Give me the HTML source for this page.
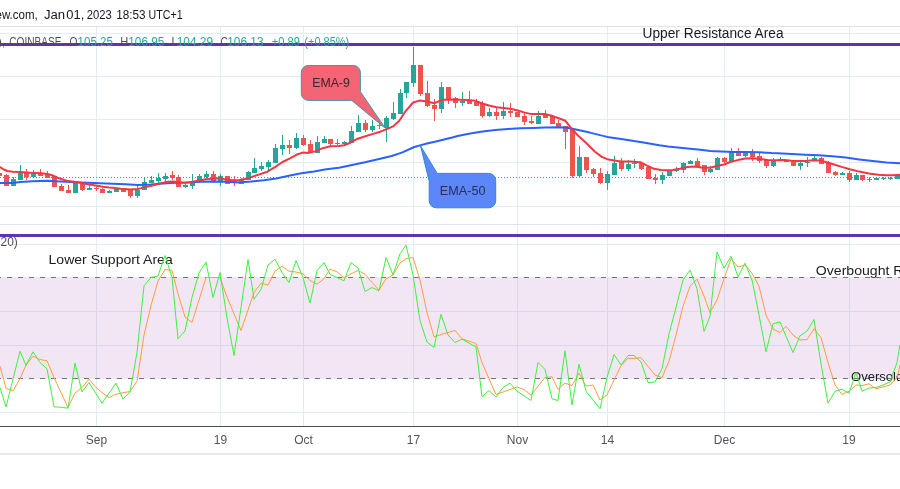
<!DOCTYPE html>
<html lang="en"><head><meta charset="utf-8"><title>Chart</title>
<style>html,body{margin:0;padding:0;background:#fff;}body{width:900px;height:489px;position:relative;overflow:hidden;font-family:"Liberation Sans",sans-serif;}</style></head>
<body>
<svg width="900" height="489" viewBox="0 0 900 489" style="position:absolute;left:0;top:0;display:block">
<rect width="900" height="489" fill="#fff"/>
<rect x="0" y="278" width="900" height="100" fill="#f2e6f5"/>
<g fill="#e1ecf3" shape-rendering="crispEdges">
<rect x="96" y="27" width="1" height="399"/>
<rect x="220" y="27" width="1" height="399"/>
<rect x="303" y="27" width="1" height="399"/>
<rect x="413" y="27" width="1" height="399"/>
<rect x="517" y="27" width="1" height="399"/>
<rect x="607" y="27" width="1" height="399"/>
<rect x="724" y="27" width="1" height="399"/>
<rect x="849" y="27" width="1" height="399"/>
<rect x="0" y="33" width="900" height="1"/>
<rect x="0" y="76" width="900" height="1"/>
<rect x="0" y="119" width="900" height="1"/>
<rect x="0" y="162" width="900" height="1"/>
<rect x="0" y="206" width="900" height="1"/>
<rect x="0" y="244" width="900" height="1"/>
<rect x="0" y="277" width="900" height="1"/>
<rect x="0" y="311" width="900" height="1"/>
<rect x="0" y="345" width="900" height="1"/>
<rect x="0" y="378" width="900" height="1"/>
<rect x="0" y="412" width="900" height="1"/>
</g>
<g fill="#d7d8e9" shape-rendering="crispEdges">
<rect x="0" y="311" width="900" height="1"/>
<rect x="0" y="345" width="900" height="1"/>
<rect x="96" y="278" width="1" height="100"/>
<rect x="220" y="278" width="1" height="100"/>
<rect x="303" y="278" width="1" height="100"/>
<rect x="413" y="278" width="1" height="100"/>
<rect x="517" y="278" width="1" height="100"/>
<rect x="607" y="278" width="1" height="100"/>
<rect x="724" y="278" width="1" height="100"/>
<rect x="849" y="278" width="1" height="100"/>
</g>
<rect x="0" y="26" width="900" height="1" fill="#e0e3eb" shape-rendering="crispEdges"/>
<rect x="0" y="224" width="900" height="1" fill="#e0e3eb" shape-rendering="crispEdges"/>
<g stroke="#747474" stroke-width="1" stroke-dasharray="5 6" stroke-dashoffset="4" shape-rendering="crispEdges"><line x1="0" y1="277.5" x2="900" y2="277.5"/><line x1="0" y1="378.5" x2="900" y2="378.5"/></g>
<g shape-rendering="crispEdges">
<rect x="-3" y="173" width="5" height="3" fill="#ef5350"/>
<rect x="6" y="174" width="1" height="12" fill="#ef5350"/>
<rect x="4" y="175" width="5" height="11" fill="#ef5350"/>
<rect x="13" y="177" width="1" height="9" fill="#26a69a"/>
<rect x="11" y="179" width="5" height="7" fill="#26a69a"/>
<rect x="20" y="165" width="1" height="15" fill="#26a69a"/>
<rect x="18" y="173" width="5" height="7" fill="#26a69a"/>
<rect x="26" y="169" width="1" height="11" fill="#ef5350"/>
<rect x="24" y="173" width="5" height="4" fill="#ef5350"/>
<rect x="33" y="170" width="1" height="8" fill="#26a69a"/>
<rect x="31" y="174" width="5" height="3" fill="#26a69a"/>
<rect x="40" y="169" width="1" height="7" fill="#ef5350"/>
<rect x="38" y="173" width="5" height="3" fill="#ef5350"/>
<rect x="47" y="171" width="1" height="7" fill="#ef5350"/>
<rect x="45" y="174" width="5" height="4" fill="#ef5350"/>
<rect x="52" y="176" width="5" height="11" fill="#ef5350"/>
<rect x="61" y="184" width="1" height="7" fill="#ef5350"/>
<rect x="59" y="186" width="5" height="5" fill="#ef5350"/>
<rect x="68" y="185" width="1" height="8" fill="#ef5350"/>
<rect x="66" y="190" width="5" height="3" fill="#ef5350"/>
<rect x="73" y="183" width="5" height="10" fill="#26a69a"/>
<rect x="82" y="183" width="1" height="8" fill="#ef5350"/>
<rect x="80" y="183" width="5" height="7" fill="#ef5350"/>
<rect x="89" y="185" width="1" height="5" fill="#26a69a"/>
<rect x="87" y="188" width="5" height="2" fill="#26a69a"/>
<rect x="96" y="187" width="1" height="4" fill="#ef5350"/>
<rect x="94" y="188" width="5" height="1" fill="#ef5350"/>
<rect x="102" y="188" width="1" height="5" fill="#ef5350"/>
<rect x="100" y="189" width="5" height="4" fill="#ef5350"/>
<rect x="109" y="190" width="1" height="3" fill="#26a69a"/>
<rect x="107" y="191" width="5" height="2" fill="#26a69a"/>
<rect x="114" y="189" width="5" height="3" fill="#26a69a"/>
<rect x="121" y="189" width="5" height="3" fill="#ef5350"/>
<rect x="130" y="190" width="1" height="8" fill="#ef5350"/>
<rect x="128" y="190" width="5" height="6" fill="#ef5350"/>
<rect x="137" y="185" width="1" height="13" fill="#26a69a"/>
<rect x="135" y="190" width="5" height="6" fill="#26a69a"/>
<rect x="144" y="177" width="1" height="13" fill="#26a69a"/>
<rect x="142" y="182" width="5" height="8" fill="#26a69a"/>
<rect x="151" y="176" width="1" height="7" fill="#26a69a"/>
<rect x="149" y="180" width="5" height="3" fill="#26a69a"/>
<rect x="158" y="173" width="1" height="10" fill="#26a69a"/>
<rect x="156" y="178" width="5" height="3" fill="#26a69a"/>
<rect x="165" y="173" width="1" height="9" fill="#26a69a"/>
<rect x="163" y="176" width="5" height="3" fill="#26a69a"/>
<rect x="172" y="171" width="1" height="9" fill="#ef5350"/>
<rect x="170" y="175" width="5" height="3" fill="#ef5350"/>
<rect x="178" y="175" width="1" height="12" fill="#ef5350"/>
<rect x="176" y="177" width="5" height="10" fill="#ef5350"/>
<rect x="185" y="184" width="1" height="4" fill="#26a69a"/>
<rect x="183" y="185" width="5" height="2" fill="#26a69a"/>
<rect x="192" y="174" width="1" height="15" fill="#26a69a"/>
<rect x="190" y="181" width="5" height="5" fill="#26a69a"/>
<rect x="199" y="174" width="1" height="9" fill="#26a69a"/>
<rect x="197" y="176" width="5" height="5" fill="#26a69a"/>
<rect x="206" y="171" width="1" height="7" fill="#26a69a"/>
<rect x="204" y="174" width="5" height="3" fill="#26a69a"/>
<rect x="213" y="171" width="1" height="12" fill="#ef5350"/>
<rect x="211" y="174" width="5" height="7" fill="#ef5350"/>
<rect x="220" y="174" width="1" height="12" fill="#26a69a"/>
<rect x="218" y="176" width="5" height="5" fill="#26a69a"/>
<rect x="225" y="176" width="5" height="8" fill="#ef5350"/>
<rect x="234" y="176" width="1" height="10" fill="#ef5350"/>
<rect x="232" y="180" width="5" height="3" fill="#ef5350"/>
<rect x="241" y="178" width="1" height="6" fill="#26a69a"/>
<rect x="239" y="180" width="5" height="4" fill="#26a69a"/>
<rect x="248" y="171" width="1" height="9" fill="#26a69a"/>
<rect x="246" y="172" width="5" height="8" fill="#26a69a"/>
<rect x="254" y="158" width="1" height="15" fill="#26a69a"/>
<rect x="252" y="168" width="5" height="5" fill="#26a69a"/>
<rect x="261" y="162" width="1" height="9" fill="#26a69a"/>
<rect x="259" y="166" width="5" height="3" fill="#26a69a"/>
<rect x="268" y="160" width="1" height="10" fill="#26a69a"/>
<rect x="266" y="162" width="5" height="5" fill="#26a69a"/>
<rect x="275" y="144" width="1" height="19" fill="#26a69a"/>
<rect x="273" y="148" width="5" height="15" fill="#26a69a"/>
<rect x="282" y="135" width="1" height="20" fill="#26a69a"/>
<rect x="280" y="145" width="5" height="4" fill="#26a69a"/>
<rect x="289" y="140" width="1" height="14" fill="#ef5350"/>
<rect x="287" y="145" width="5" height="3" fill="#ef5350"/>
<rect x="296" y="133" width="1" height="16" fill="#26a69a"/>
<rect x="294" y="138" width="5" height="10" fill="#26a69a"/>
<rect x="303" y="135" width="1" height="11" fill="#ef5350"/>
<rect x="301" y="138" width="5" height="7" fill="#ef5350"/>
<rect x="310" y="140" width="1" height="12" fill="#ef5350"/>
<rect x="308" y="144" width="5" height="8" fill="#ef5350"/>
<rect x="317" y="136" width="1" height="17" fill="#26a69a"/>
<rect x="315" y="142" width="5" height="11" fill="#26a69a"/>
<rect x="324" y="136" width="1" height="7" fill="#26a69a"/>
<rect x="322" y="139" width="5" height="4" fill="#26a69a"/>
<rect x="330" y="139" width="1" height="7" fill="#ef5350"/>
<rect x="328" y="139" width="5" height="5" fill="#ef5350"/>
<rect x="337" y="139" width="1" height="6" fill="#26a69a"/>
<rect x="335" y="143" width="5" height="1" fill="#26a69a"/>
<rect x="344" y="141" width="1" height="3" fill="#26a69a"/>
<rect x="342" y="142" width="5" height="2" fill="#26a69a"/>
<rect x="351" y="126" width="1" height="17" fill="#26a69a"/>
<rect x="349" y="131" width="5" height="12" fill="#26a69a"/>
<rect x="358" y="115" width="1" height="17" fill="#26a69a"/>
<rect x="356" y="123" width="5" height="9" fill="#26a69a"/>
<rect x="365" y="120" width="1" height="12" fill="#ef5350"/>
<rect x="363" y="123" width="5" height="7" fill="#ef5350"/>
<rect x="372" y="120" width="1" height="12" fill="#26a69a"/>
<rect x="370" y="126" width="5" height="4" fill="#26a69a"/>
<rect x="379" y="123" width="1" height="6" fill="#ef5350"/>
<rect x="377" y="125" width="5" height="1" fill="#ef5350"/>
<rect x="386" y="116" width="1" height="26" fill="#26a69a"/>
<rect x="384" y="118" width="5" height="10" fill="#26a69a"/>
<rect x="393" y="102" width="1" height="18" fill="#26a69a"/>
<rect x="391" y="113" width="5" height="6" fill="#26a69a"/>
<rect x="400" y="89" width="1" height="25" fill="#26a69a"/>
<rect x="398" y="93" width="5" height="21" fill="#26a69a"/>
<rect x="406" y="82" width="1" height="16" fill="#26a69a"/>
<rect x="404" y="82" width="5" height="11" fill="#26a69a"/>
<rect x="413" y="47" width="1" height="40" fill="#26a69a"/>
<rect x="411" y="65" width="5" height="18" fill="#26a69a"/>
<rect x="420" y="65" width="1" height="31" fill="#ef5350"/>
<rect x="418" y="65" width="5" height="29" fill="#ef5350"/>
<rect x="427" y="81" width="1" height="26" fill="#ef5350"/>
<rect x="425" y="93" width="5" height="13" fill="#ef5350"/>
<rect x="434" y="99" width="1" height="22" fill="#ef5350"/>
<rect x="432" y="105" width="5" height="4" fill="#ef5350"/>
<rect x="441" y="82" width="1" height="31" fill="#26a69a"/>
<rect x="439" y="87" width="5" height="22" fill="#26a69a"/>
<rect x="448" y="87" width="1" height="17" fill="#ef5350"/>
<rect x="446" y="87" width="5" height="13" fill="#ef5350"/>
<rect x="455" y="97" width="1" height="11" fill="#ef5350"/>
<rect x="453" y="98" width="5" height="5" fill="#ef5350"/>
<rect x="462" y="92" width="1" height="14" fill="#26a69a"/>
<rect x="460" y="101" width="5" height="2" fill="#26a69a"/>
<rect x="469" y="91" width="1" height="13" fill="#ef5350"/>
<rect x="467" y="100" width="5" height="4" fill="#ef5350"/>
<rect x="476" y="99" width="1" height="7" fill="#ef5350"/>
<rect x="474" y="102" width="5" height="4" fill="#ef5350"/>
<rect x="482" y="101" width="1" height="17" fill="#ef5350"/>
<rect x="480" y="104" width="5" height="12" fill="#ef5350"/>
<rect x="489" y="108" width="1" height="9" fill="#26a69a"/>
<rect x="487" y="112" width="5" height="4" fill="#26a69a"/>
<rect x="496" y="108" width="1" height="12" fill="#ef5350"/>
<rect x="494" y="112" width="5" height="4" fill="#ef5350"/>
<rect x="503" y="102" width="1" height="17" fill="#26a69a"/>
<rect x="501" y="111" width="5" height="5" fill="#26a69a"/>
<rect x="510" y="103" width="1" height="14" fill="#ef5350"/>
<rect x="508" y="111" width="5" height="2" fill="#ef5350"/>
<rect x="515" y="112" width="5" height="5" fill="#ef5350"/>
<rect x="524" y="113" width="1" height="12" fill="#ef5350"/>
<rect x="522" y="116" width="5" height="6" fill="#ef5350"/>
<rect x="531" y="116" width="1" height="8" fill="#ef5350"/>
<rect x="529" y="121" width="5" height="2" fill="#ef5350"/>
<rect x="538" y="111" width="1" height="13" fill="#26a69a"/>
<rect x="536" y="116" width="5" height="8" fill="#26a69a"/>
<rect x="545" y="110" width="1" height="8" fill="#ef5350"/>
<rect x="543" y="114" width="5" height="4" fill="#ef5350"/>
<rect x="552" y="115" width="1" height="9" fill="#ef5350"/>
<rect x="550" y="116" width="5" height="8" fill="#ef5350"/>
<rect x="558" y="120" width="1" height="7" fill="#ef5350"/>
<rect x="556" y="123" width="5" height="4" fill="#ef5350"/>
<rect x="565" y="126" width="1" height="23" fill="#ef5350"/>
<rect x="563" y="126" width="5" height="6" fill="#ef5350"/>
<rect x="572" y="129" width="1" height="49" fill="#ef5350"/>
<rect x="570" y="129" width="5" height="47" fill="#ef5350"/>
<rect x="579" y="146" width="1" height="32" fill="#26a69a"/>
<rect x="577" y="157" width="5" height="19" fill="#26a69a"/>
<rect x="586" y="157" width="1" height="16" fill="#ef5350"/>
<rect x="584" y="157" width="5" height="13" fill="#ef5350"/>
<rect x="593" y="168" width="1" height="9" fill="#ef5350"/>
<rect x="591" y="169" width="5" height="5" fill="#ef5350"/>
<rect x="600" y="168" width="1" height="16" fill="#ef5350"/>
<rect x="598" y="173" width="5" height="10" fill="#ef5350"/>
<rect x="607" y="171" width="1" height="19" fill="#26a69a"/>
<rect x="605" y="174" width="5" height="9" fill="#26a69a"/>
<rect x="614" y="156" width="1" height="19" fill="#26a69a"/>
<rect x="612" y="163" width="5" height="12" fill="#26a69a"/>
<rect x="621" y="158" width="1" height="13" fill="#ef5350"/>
<rect x="619" y="162" width="5" height="7" fill="#ef5350"/>
<rect x="628" y="160" width="1" height="11" fill="#26a69a"/>
<rect x="626" y="164" width="5" height="5" fill="#26a69a"/>
<rect x="634" y="159" width="1" height="9" fill="#26a69a"/>
<rect x="632" y="163" width="5" height="1" fill="#26a69a"/>
<rect x="641" y="163" width="1" height="7" fill="#ef5350"/>
<rect x="639" y="163" width="5" height="6" fill="#ef5350"/>
<rect x="646" y="167" width="5" height="12" fill="#ef5350"/>
<rect x="655" y="174" width="1" height="10" fill="#ef5350"/>
<rect x="653" y="178" width="5" height="2" fill="#ef5350"/>
<rect x="662" y="172" width="1" height="12" fill="#26a69a"/>
<rect x="660" y="175" width="5" height="5" fill="#26a69a"/>
<rect x="667" y="170" width="5" height="6" fill="#26a69a"/>
<rect x="676" y="167" width="1" height="5" fill="#26a69a"/>
<rect x="674" y="169" width="5" height="2" fill="#26a69a"/>
<rect x="683" y="162" width="1" height="11" fill="#26a69a"/>
<rect x="681" y="163" width="5" height="7" fill="#26a69a"/>
<rect x="690" y="160" width="1" height="4" fill="#26a69a"/>
<rect x="688" y="161" width="5" height="3" fill="#26a69a"/>
<rect x="697" y="158" width="1" height="9" fill="#ef5350"/>
<rect x="695" y="161" width="5" height="6" fill="#ef5350"/>
<rect x="704" y="165" width="1" height="10" fill="#ef5350"/>
<rect x="702" y="165" width="5" height="7" fill="#ef5350"/>
<rect x="710" y="166" width="1" height="7" fill="#26a69a"/>
<rect x="708" y="169" width="5" height="3" fill="#26a69a"/>
<rect x="717" y="157" width="1" height="13" fill="#26a69a"/>
<rect x="715" y="158" width="5" height="12" fill="#26a69a"/>
<rect x="724" y="157" width="1" height="6" fill="#ef5350"/>
<rect x="722" y="158" width="5" height="4" fill="#ef5350"/>
<rect x="731" y="148" width="1" height="13" fill="#26a69a"/>
<rect x="729" y="151" width="5" height="10" fill="#26a69a"/>
<rect x="738" y="148" width="1" height="8" fill="#ef5350"/>
<rect x="736" y="151" width="5" height="5" fill="#ef5350"/>
<rect x="745" y="151" width="1" height="6" fill="#26a69a"/>
<rect x="743" y="152" width="5" height="4" fill="#26a69a"/>
<rect x="752" y="149" width="1" height="12" fill="#ef5350"/>
<rect x="750" y="153" width="5" height="4" fill="#ef5350"/>
<rect x="759" y="153" width="1" height="10" fill="#ef5350"/>
<rect x="757" y="156" width="5" height="5" fill="#ef5350"/>
<rect x="766" y="160" width="1" height="8" fill="#ef5350"/>
<rect x="764" y="160" width="5" height="6" fill="#ef5350"/>
<rect x="773" y="158" width="1" height="9" fill="#26a69a"/>
<rect x="771" y="161" width="5" height="5" fill="#26a69a"/>
<rect x="780" y="157" width="1" height="4" fill="#26a69a"/>
<rect x="778" y="159" width="5" height="2" fill="#26a69a"/>
<rect x="784" y="160" width="5" height="2" fill="#ef5350"/>
<rect x="791" y="161" width="5" height="5" fill="#ef5350"/>
<rect x="800" y="160" width="1" height="10" fill="#26a69a"/>
<rect x="798" y="163" width="5" height="3" fill="#26a69a"/>
<rect x="807" y="157" width="1" height="10" fill="#26a69a"/>
<rect x="805" y="162" width="5" height="1" fill="#26a69a"/>
<rect x="814" y="154" width="1" height="6" fill="#26a69a"/>
<rect x="812" y="158" width="5" height="2" fill="#26a69a"/>
<rect x="821" y="157" width="1" height="7" fill="#ef5350"/>
<rect x="819" y="158" width="5" height="6" fill="#ef5350"/>
<rect x="828" y="161" width="1" height="12" fill="#ef5350"/>
<rect x="826" y="163" width="5" height="10" fill="#ef5350"/>
<rect x="835" y="171" width="1" height="5" fill="#ef5350"/>
<rect x="833" y="172" width="5" height="3" fill="#ef5350"/>
<rect x="842" y="172" width="1" height="3" fill="#26a69a"/>
<rect x="840" y="173" width="5" height="2" fill="#26a69a"/>
<rect x="849" y="171" width="1" height="11" fill="#ef5350"/>
<rect x="847" y="173" width="5" height="7" fill="#ef5350"/>
<rect x="856" y="173" width="1" height="7" fill="#26a69a"/>
<rect x="854" y="175" width="5" height="5" fill="#26a69a"/>
<rect x="862" y="175" width="1" height="6" fill="#ef5350"/>
<rect x="860" y="175" width="5" height="5" fill="#ef5350"/>
<rect x="869" y="177" width="1" height="5" fill="#26a69a"/>
<rect x="867" y="179" width="5" height="1" fill="#26a69a"/>
<rect x="876" y="177" width="1" height="3" fill="#26a69a"/>
<rect x="874" y="178" width="5" height="2" fill="#26a69a"/>
<rect x="883" y="177" width="1" height="3" fill="#26a69a"/>
<rect x="881" y="178" width="5" height="1" fill="#26a69a"/>
<rect x="890" y="177" width="1" height="3" fill="#26a69a"/>
<rect x="888" y="178" width="5" height="1" fill="#26a69a"/>
<rect x="895" y="175" width="5" height="4" fill="#26a69a"/>
</g>
<line x1="0" y1="177.5" x2="900" y2="177.5" stroke="#26a69a" stroke-width="1" stroke-dasharray="1 2" shape-rendering="crispEdges"/>
<polyline points="0.0,183.1 12.6,183.1 20.0,182.1 32.6,181.2 47.7,180.8 55.2,181.2 65.3,181.7 75.3,182.2 87.9,182.7 100.4,183.3 113.0,183.7 125.6,184.2 138.1,184.9 150.7,184.5 163.2,183.5 175.8,182.7 188.3,182.4 200.9,181.8 213.4,181.4 226.0,181.8 238.6,182.5 251.1,181.5 263.7,180.2 276.2,178.4 288.8,175.8 301.3,173.3 313.9,171.5 326.4,169.3 339.0,167.7 352.0,165.0 365.0,162.3 378.0,159.3 391.7,156.0 401.8,152.6 414.3,147.0 420.9,145.1 426.9,143.5 434.8,141.8 445.0,139.3 452.2,137.5 457.6,136.0 470.1,133.6 482.7,131.5 495.2,130.0 507.8,129.0 520.3,128.3 532.9,128.0 545.4,127.5 558.0,127.3 565.4,127.4 572.4,128.8 589.8,132.6 607.2,136.9 624.5,139.6 641.9,142.2 659.3,145.3 668.0,146.5 677.6,147.6 690.1,148.8 702.7,150.1 710.2,151.1 721.5,151.6 734.1,152.0 746.6,152.0 759.2,152.3 771.7,153.0 778.0,153.2 791.6,154.0 805.1,154.7 818.7,155.3 832.2,156.3 845.8,157.6 859.3,159.4 872.9,161.0 886.4,162.4 900.0,163.2" fill="none" stroke="#2962ff" stroke-width="2" stroke-linejoin="round" stroke-linecap="round"/>
<polyline points="0.0,167.0 3.8,169.5 7.5,171.0 12.6,171.8 20.0,172.0 26.4,172.4 33.9,172.9 41.4,173.3 47.7,173.9 52.7,175.5 59.0,178.3 66.5,180.8 74.0,181.8 80.4,182.7 87.9,184.3 95.4,185.4 103.0,186.7 109.2,187.5 113.0,187.7 120.5,188.7 130.6,189.6 138.1,188.9 145.6,187.1 153.2,185.2 160.7,183.3 168.2,181.8 173.3,181.4 178.3,182.3 184.6,182.7 190.8,182.0 198.4,180.8 205.9,179.2 213.4,178.6 221.0,178.3 226.0,179.6 232.3,180.2 238.6,180.2 244.8,179.0 251.1,177.1 258.6,174.6 267.4,171.7 275.0,167.1 282.5,162.0 290.0,158.3 296.3,154.8 302.6,152.6 308.9,152.9 315.1,151.4 322.7,148.2 330.2,146.3 339.0,146.1 344.0,145.2 350.3,142.7 357.8,138.7 365.4,136.2 372.9,133.9 380.4,131.7 386.7,129.1 393.0,126.4 399.3,120.7 405.5,111.3 413.1,102.5 419.4,100.6 425.6,101.3 434.4,103.2 442.0,100.0 445.0,99.7 452.5,99.5 460.1,99.8 467.6,100.1 475.1,100.7 481.4,103.2 488.9,105.5 496.5,107.2 504.0,107.9 511.5,109.1 517.8,110.5 524.1,112.4 530.4,113.9 537.9,113.9 545.4,114.1 551.7,115.8 555.0,117.0 560.2,118.7 565.4,120.8 570.6,127.4 577.6,135.2 586.3,143.0 595.0,151.7 601.9,156.9 607.2,159.2 614.1,160.4 621.1,161.6 629.8,161.6 640.2,162.2 647.1,165.6 654.1,168.8 661.0,170.0 665.0,170.2 672.5,169.9 680.1,168.7 687.6,167.0 695.1,166.4 702.7,167.7 710.2,167.7 717.7,165.8 724.0,164.5 730.3,162.0 737.8,160.1 745.4,158.6 752.9,158.2 760.4,159.1 768.0,159.9 778.0,160.3 784.8,160.1 791.6,160.8 798.3,161.0 805.1,161.0 813.2,160.3 821.4,160.8 828.2,162.8 834.9,164.8 841.7,166.9 849.8,169.2 859.3,171.6 868.8,173.4 878.3,174.7 886.4,175.3 893.2,175.3 900.0,174.7" fill="none" stroke="#f23645" stroke-width="2" stroke-linejoin="round" stroke-linecap="round"/>
<g font-family="Liberation Sans, sans-serif">
<text x="-4.5" y="18.9" font-size="12.5" fill="#131722" text-anchor="start" textLength="42.2" lengthAdjust="spacingAndGlyphs" >ew.com,</text>
<text x="43.9" y="18.9" font-size="12.5" fill="#131722" text-anchor="start" textLength="21.2" lengthAdjust="spacingAndGlyphs" >Jan</text>
<text x="66.3" y="18.9" font-size="12.5" fill="#131722" text-anchor="start" textLength="18" lengthAdjust="spacingAndGlyphs" >01,</text>
<text x="86.7" y="18.9" font-size="12.5" fill="#131722" text-anchor="start" textLength="25" lengthAdjust="spacingAndGlyphs" >2023</text>
<text x="116.2" y="18.9" font-size="12.5" fill="#131722" text-anchor="start" textLength="29.4" lengthAdjust="spacingAndGlyphs" >18:53</text>
<text x="148.6" y="18.9" font-size="12.5" fill="#131722" text-anchor="start" textLength="34" lengthAdjust="spacingAndGlyphs" >UTC+1</text>
<text x="642.6" y="37.9" font-size="13.8" fill="#1b1b1f" text-anchor="start" textLength="141" lengthAdjust="spacingAndGlyphs" >Upper Resistance Area</text>
<text x="48.5" y="264.25" font-size="13.5" fill="#1b1b1f" text-anchor="start" textLength="124.2" lengthAdjust="spacingAndGlyphs" >Lower Support Area</text>
<text x="815.8" y="274.5" font-size="13.5" fill="#1b1b1f" text-anchor="start" textLength="122.2" lengthAdjust="spacingAndGlyphs" >Overbought Region</text>
<text x="851" y="380.5" font-size="13.5" fill="#1b1b1f" text-anchor="start" textLength="97.3" lengthAdjust="spacingAndGlyphs" >Oversold Region</text>
<text x="0.5" y="245.5" font-size="12" fill="#4d4d55" text-anchor="start" >20)</text>
<text x="96.5" y="444" font-size="12" fill="#50535e" text-anchor="middle" >Sep</text>
<text x="220.5" y="444" font-size="12" fill="#50535e" text-anchor="middle" >19</text>
<text x="303.5" y="444" font-size="12" fill="#50535e" text-anchor="middle" >Oct</text>
<text x="413.5" y="444" font-size="12" fill="#50535e" text-anchor="middle" >17</text>
<text x="517.5" y="444" font-size="12" fill="#50535e" text-anchor="middle" >Nov</text>
<text x="607.5" y="444" font-size="12" fill="#50535e" text-anchor="middle" >14</text>
<text x="724.5" y="444" font-size="12" fill="#50535e" text-anchor="middle" >Dec</text>
<text x="849" y="444" font-size="12" fill="#50535e" text-anchor="middle" >19</text>
</g>
<polyline points="0.0,366.2 6.0,388.2 13.0,390.8 20.0,378.8 26.0,365.0 33.0,356.2 40.0,359.5 47.0,360.8 54.0,377.5 61.0,392.5 68.0,407.5 75.0,393.0 82.0,387.5 89.0,379.2 96.0,387.5 102.0,392.5 109.0,397.5 116.0,394.2 123.0,392.8 130.0,391.5 137.0,381.2 144.0,335.0 151.0,305.5 158.0,281.0 165.0,269.5 172.0,270.5 178.0,293.8 185.0,317.0 192.0,322.5 199.0,300.0 206.0,277.5 213.0,277.5 220.0,277.5 227.0,297.0 241.0,330.5 254.0,292.5 261.0,283.2 268.0,285.0 275.0,271.2 282.0,266.2 289.0,271.2 296.0,272.0 303.0,273.8 310.0,280.5 317.0,284.2 324.0,278.8 330.0,269.2 337.0,271.8 344.0,278.0 351.0,273.8 358.0,270.5 365.0,274.2 372.0,282.5 379.0,290.0 386.0,278.8 393.0,275.0 400.0,263.0 406.0,258.8 413.0,257.5 420.0,280.0 427.0,312.5 434.0,336.8 441.0,334.5 448.0,332.5 455.0,330.5 462.0,338.8 469.0,341.2 476.0,343.5 482.0,362.5 489.0,378.8 496.0,394.5 503.0,392.0 510.0,389.5 517.0,387.0 524.0,389.5 531.0,395.0 538.0,386.2 545.0,377.5 552.0,376.8 558.0,389.2 565.0,383.2 572.0,385.5 579.0,373.2 586.0,386.2 593.0,385.0 600.0,400.0 607.0,395.0 614.0,380.0 621.0,365.8 628.0,358.2 634.0,358.5 641.0,357.5 648.0,366.2 655.0,375.0 662.0,377.5 669.0,361.2 676.0,335.1 683.0,306.2 690.0,286.2 697.0,279.2 704.0,296.2 710.0,312.5 717.0,300.0 724.0,278.8 731.0,258.8 738.0,267.0 745.0,265.0 752.0,273.2 759.0,286.2 766.0,315.0 773.0,329.2 780.0,332.5 786.0,326.2 793.0,335.0 800.0,340.0 807.0,339.5 814.0,328.8 821.0,337.5 828.0,362.5 835.0,385.0 842.0,394.5 849.0,391.2 856.0,385.0 862.0,385.5 869.0,383.8 876.0,388.8 883.0,386.8 890.0,385.0 897.0,377.5 900.0,365.0" fill="none" stroke="#ff9c40" stroke-width="1" stroke-linejoin="round"/>
<polyline points="0.0,387.5 6.0,407.0 20.0,351.2 26.0,365.5 33.0,351.8 40.0,362.5 47.0,368.8 54.0,406.8 61.0,407.2 68.0,408.2 75.0,363.2 82.0,392.0 89.0,382.5 102.0,403.2 116.0,383.2 123.0,399.2 130.0,392.0 137.0,352.5 144.0,285.8 151.0,277.5 158.0,276.0 165.0,255.5 172.0,277.5 178.0,338.8 185.0,331.0 192.0,297.5 199.0,273.0 206.0,262.0 213.0,297.5 220.0,272.5 227.0,318.0 234.0,355.5 248.0,259.5 254.0,299.2 261.0,289.5 268.0,265.0 275.0,259.2 282.0,272.5 289.0,282.5 296.0,260.5 303.0,277.5 310.0,303.2 317.0,270.5 324.0,262.5 330.0,274.5 337.0,277.5 344.0,280.8 351.0,262.5 358.0,268.0 365.0,291.5 372.0,287.5 379.0,290.8 386.0,257.5 393.0,275.0 400.0,253.8 406.0,245.0 413.0,275.0 420.0,320.5 427.0,342.0 434.0,347.5 441.0,314.2 448.0,335.0 455.0,342.5 462.0,339.2 476.0,347.0 482.0,396.8 489.0,390.5 496.0,397.0 503.0,387.5 510.0,383.2 517.0,391.2 531.0,400.5 538.0,362.5 545.0,369.5 552.0,398.8 558.0,400.5 565.0,350.8 572.0,405.0 579.0,364.2 586.0,391.2 600.0,408.8 607.0,377.5 614.0,354.5 621.0,365.0 628.0,355.5 634.0,355.5 641.0,361.8 648.0,382.5 655.0,382.0 662.0,368.8 669.0,333.8 676.0,307.6 683.0,280.0 690.0,270.0 697.0,288.8 704.0,331.5 710.0,316.2 717.0,252.0 724.0,268.2 731.0,256.2 738.0,276.8 745.0,263.2 752.0,280.0 759.0,315.0 766.0,351.8 773.0,323.8 780.0,321.8 786.0,336.2 793.0,352.5 800.0,335.8 807.0,331.2 814.0,319.5 821.0,363.8 828.0,403.2 835.0,391.2 842.0,389.2 849.0,393.2 856.0,372.5 862.0,391.2 869.0,388.0 876.0,387.5 883.0,385.0 890.0,382.0 897.0,362.5 900.0,345.0" fill="none" stroke="#40f040" stroke-width="1" stroke-linejoin="round"/>
<rect x="0" y="43" width="900" height="3" fill="#5e35b1" shape-rendering="crispEdges"/>
<rect x="0" y="234" width="900" height="3" fill="#5e35b1" shape-rendering="crispEdges"/>
<g font-family="Liberation Sans, sans-serif">
<text x="-2.3" y="45.9" font-size="12.5" fill="#4d4d55" text-anchor="start" >),</text>
<text x="9.3" y="45.9" font-size="12.5" fill="#4d4d55" text-anchor="start" textLength="52.3" lengthAdjust="spacingAndGlyphs" >COINBASE</text>
<text x="69.4" y="45.9" font-size="12.5" fill="#4d4d55" text-anchor="start" textLength="7.9" lengthAdjust="spacingAndGlyphs" >O</text>
<text x="77.6" y="45.9" font-size="12.5" fill="#26a69a" text-anchor="start" textLength="35.3" lengthAdjust="spacingAndGlyphs" >105.25</text>
<text x="120.3" y="45.9" font-size="12.5" fill="#4d4d55" text-anchor="start" textLength="8" lengthAdjust="spacingAndGlyphs" >H</text>
<text x="128.3" y="45.9" font-size="12.5" fill="#26a69a" text-anchor="start" textLength="36" lengthAdjust="spacingAndGlyphs" >106.95</text>
<text x="171.5" y="45.9" font-size="12.5" fill="#4d4d55" text-anchor="start" textLength="6" lengthAdjust="spacingAndGlyphs" >L</text>
<text x="176.7" y="45.9" font-size="12.5" fill="#26a69a" text-anchor="start" textLength="36.4" lengthAdjust="spacingAndGlyphs" >104.29</text>
<text x="220.5" y="45.9" font-size="12.5" fill="#4d4d55" text-anchor="start" textLength="7.3" lengthAdjust="spacingAndGlyphs" >C</text>
<text x="227.2" y="45.9" font-size="12.5" fill="#26a69a" text-anchor="start" textLength="36.3" lengthAdjust="spacingAndGlyphs" >106.13</text>
<text x="271.8" y="45.9" font-size="12.5" fill="#26a69a" text-anchor="start" textLength="28.2" lengthAdjust="spacingAndGlyphs" >+0.89</text>
<text x="304.3" y="45.9" font-size="12.5" fill="#26a69a" text-anchor="start" textLength="45" lengthAdjust="spacingAndGlyphs" >(+0.85%)</text>
</g>
<path d="M308.3,65.5 H353.4 a7,7 0 0 1 7,7 V91.7 L385.3,128.2 L351.7,100.4 H308.3 a7,7 0 0 1 -7,-7 V72.5 a7,7 0 0 1 7,-7 Z" fill="#f36574" stroke="#4a93a8" stroke-width="1"/>
<path d="M437.2,173.4 H488.7 a7,7 0 0 1 7,7 V200.8 a7,7 0 0 1 -7,7 H436.2 a7,7 0 0 1 -7,-7 V181.1 L420.5,145.8 Z" fill="#5c87fb" stroke="#3286d2" stroke-width="1"/>
<g font-family="Liberation Sans, sans-serif">
<text x="331" y="86.9" font-size="13.4" fill="#3b2530" text-anchor="middle" textLength="37.6" lengthAdjust="spacingAndGlyphs" >EMA-9</text>
<text x="462.6" y="194.6" font-size="13.4" fill="#2a2f55" text-anchor="middle" textLength="45.8" lengthAdjust="spacingAndGlyphs" >EMA-50</text>
</g>
<line x1="429" y1="177.5" x2="496" y2="177.5" stroke="#26a69a" stroke-opacity="0.4" stroke-width="1" stroke-dasharray="1 2" stroke-dashoffset="0" shape-rendering="crispEdges"/>
<rect x="0" y="426" width="900" height="1" fill="#4a4d57" shape-rendering="crispEdges"/>
<rect x="0" y="453" width="900" height="2" fill="#e6e9f0" shape-rendering="crispEdges"/>
</svg>
</body></html>
